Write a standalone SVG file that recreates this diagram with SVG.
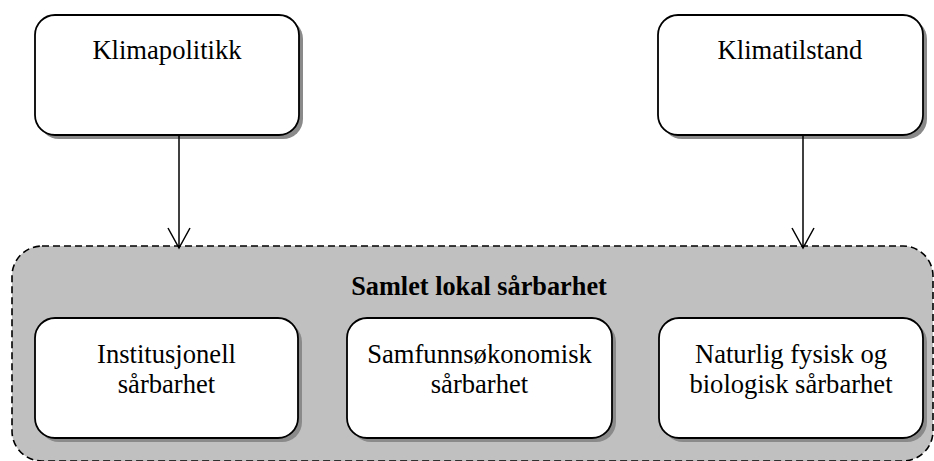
<svg xmlns="http://www.w3.org/2000/svg" width="934" height="461" viewBox="0 0 934 461">
  <style>
    .box { fill: #ffffff; stroke: #000000; stroke-width: 1.8; }
    .shadow { fill: #8a8a8a; stroke: none; }
    .label { font-size: 26.6px; fill: #000000; text-anchor: middle; }
    .title { font-size: 26.3px; font-weight: bold; fill: #000000; text-anchor: middle; }
    .group { fill: #c0c0c0; stroke: #000000; stroke-width: 1.6; stroke-dasharray: 7 4; }
    .link { fill: none; stroke: #000000; stroke-width: 1.5; }
  </style>
  <defs>
    <marker id="open-arrow" viewBox="0 0 24 24" refX="22" refY="12" markerWidth="24" markerHeight="24" markerUnits="userSpaceOnUse" orient="auto">
      <path d="M2 1 L22 12 L2 23" fill="none" stroke="#000000" stroke-width="1.5"/>
    </marker>
  </defs>
  <rect width="934" height="461" fill="#ffffff"/>

  <g font-family="'Liberation Serif', 'DejaVu Serif', serif">
    <!-- Container: overall local vulnerability -->
    <g id="samlet">
      <rect class="group" x="12" y="246" width="921" height="215" rx="30" ry="30"/>
      <text class="title" x="479" y="295">Samlet lokal sårbarhet</text>
    </g>

    <g id="klimapolitikk">
      <rect class="shadow" x="39" y="19" width="264" height="120" rx="20" ry="20"/>
      <rect class="box" x="35" y="15" width="264" height="120" rx="20" ry="20"/>
      <text class="label" x="167" y="59">Klimapolitikk</text>
    </g>

    <g id="klimatilstand">
      <rect class="shadow" x="662" y="19" width="265" height="120" rx="20" ry="20"/>
      <rect class="box" x="658" y="15" width="265" height="120" rx="20" ry="20"/>
      <text class="label" x="790" y="59">Klimatilstand</text>
    </g>

    <g id="institusjonell">
      <rect class="shadow" x="39" y="322" width="263" height="120" rx="20" ry="20"/>
      <rect class="box" x="35" y="318" width="263" height="120" rx="20" ry="20"/>
      <text class="label" x="166.5" y="363">Institusjonell</text>
      <text class="label" x="166.5" y="393">sårbarhet</text>
    </g>

    <g id="samfunnsokonomisk">
      <rect class="shadow" x="351" y="322" width="265" height="120" rx="20" ry="20"/>
      <rect class="box" x="347" y="318" width="265" height="120" rx="20" ry="20"/>
      <text class="label" x="479.5" y="363">Samfunnsøkonomisk</text>
      <text class="label" x="479.5" y="393">sårbarhet</text>
    </g>

    <g id="naturlig">
      <rect class="shadow" x="663" y="322" width="264" height="120" rx="20" ry="20"/>
      <rect class="box" x="659" y="318" width="264" height="120" rx="20" ry="20"/>
      <text class="label" x="791" y="363">Naturlig fysisk og</text>
      <text class="label" x="791" y="393">biologisk sårbarhet</text>
    </g>
  </g>

  <g id="connectors">
    <line class="link" x1="179" y1="135" x2="179" y2="248" marker-end="url(#open-arrow)"/>
    <line class="link" x1="803" y1="135" x2="803" y2="248" marker-end="url(#open-arrow)"/>
  </g>
</svg>
